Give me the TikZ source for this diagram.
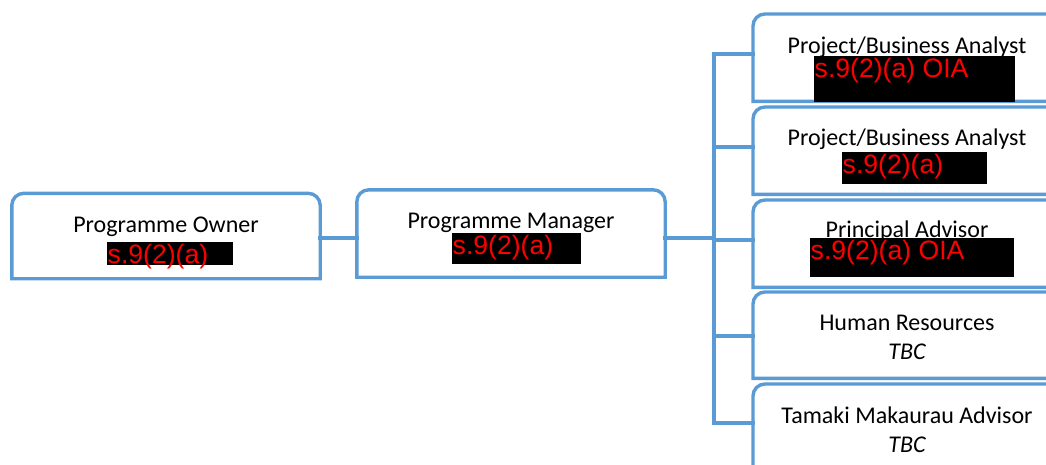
\documentclass[tikz,border=0pt]{standalone}
\usepackage{fontspec}
\setmainfont{Carlito}
\newfontfamily\redactfont{Liberation Sans}
\usetikzlibrary{positioning}
\definecolor{orgblue}{HTML}{5B9BD5}
\tikzstyle{post} = [rectangle, minimum width=308pt, minimum height=85pt, inner sep=0pt]
\tikzstyle{role} = [rectangle, minimum width=320pt, minimum height=87pt, inner sep=0pt, anchor=north west]
\tikzstyle{boxedge} = [draw=orgblue, line width=3.4pt]
\tikzstyle{link} = [draw=orgblue, line width=3.6pt, line cap=rect]
\tikzstyle{title} = [font=\fontsize{24}{30}\selectfont, text=black, anchor=base, inner sep=0pt]
\tikzstyle{blackout} = [fill=black, inner sep=0pt, anchor=north west]
\tikzstyle{redacted} = [font=\redactfont\fontsize{26.6}{30}\selectfont, text=red, inner xsep=0.5pt, inner ysep=2pt, anchor=north west]

\begin{document}
\begin{tikzpicture}[x=1pt, y=-1pt]
  \clip (0,0) rectangle (1046,464);
  % boxes
  \node [post] (po) at (166,236) {};
  \node [post, minimum height=87pt] (pm) at (511,233.5) {};
  \node [role] (ra) at (753,14) {};
  \node [role] (rb) at (753,107) {};
  \node [role] (rc) at (753,200) {};
  \node [role, minimum height=86pt] (rd) at (753,292) {};
  \node [role] (re) at (753,384) {};
  \foreach \b in {po,pm,ra,rb,rc,rd,re}
    \draw [boxedge] (\b.south west) [rounded corners=12pt] -- (\b.north west)
      -- (\b.north east) [sharp corners] -- (\b.south east) -- cycle;

  % connectors
  \coordinate (hub) at (714,238);
  \path [link] (po.east |- hub) -- (hub -| pm.west);
  \path [link] (pm.east |- hub) -- (hub);
  \foreach \r/\y in {ra/54,rb/147,rc/240,rd/336,re/423} {
    \coordinate (bus-\r) at (714,\y);
    \path [link] (bus-\r) -- (bus-\r -| \r.west);
  }
  \path [link] (bus-ra) -- (bus-re);

  % titles
  \node [title] (poT) at (166,232) {Programme Owner};
  \node [title] (pmT) at (511,228) {Programme Manager};
  \node [title] (raT) at (907,53) {Project/Business Analyst};
  \node [title] (rbT) at (907,145) {Project/Business Analyst};
  \node [title] (rcT) at (907,237) {Principal Advisor};
  \node [title] (rdT) at (907,330) {Human Resources};
  \node [title] (rdS) at (907,359) {\itshape TBC};
  \node [title] (reT) at (907,423) {Tamaki Makaurau Advisor};
  \node [title] (reS) at (907,452) {\itshape TBC};

  % redactions
  \node [blackout, minimum width=126pt, minimum height=23pt] (poR) at (107,242) {};
  \node [redacted] at (poR.north west) {s.9(2)(a)};
  \node [blackout, minimum width=129pt, minimum height=31pt] (pmR) at (452,233) {};
  \node [redacted] at (pmR.north west) {s.9(2)(a)};
  \node [blackout, minimum width=201pt, minimum height=46pt] (raR) at (814,56) {};
  \node [redacted] at (raR.north west) {s.9(2)(a) OIA};
  \node [blackout, minimum width=145pt, minimum height=32pt] (rbR) at (842,152) {};
  \node [redacted] at (rbR.north west) {s.9(2)(a)};
  \node [blackout, minimum width=204pt, minimum height=39pt] (rcR) at (810,238) {};
  \node [redacted] at (rcR.north west) {s.9(2)(a) OIA};
\end{tikzpicture}
\end{document}
